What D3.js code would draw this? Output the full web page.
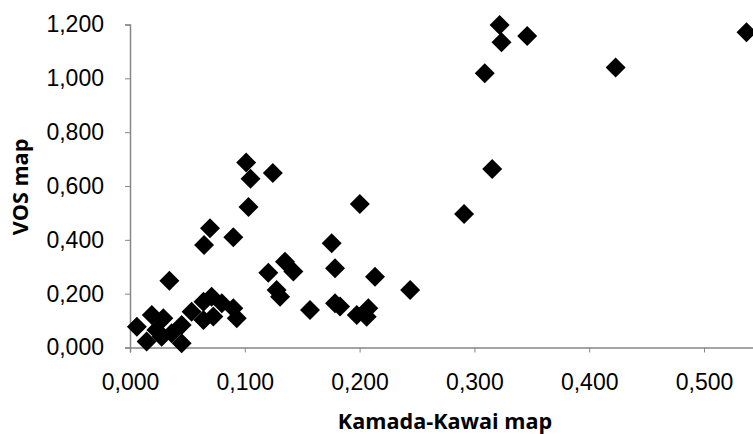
<!DOCTYPE html>
<html>
<head>
<meta charset="utf-8">
<script src="https://cdn.jsdelivr.net/npm/d3@7"></script>
<style>
    body { margin: 0; background: #fff; }
    svg { display: block; font-family: "Open Sans", Lato, sans-serif; }
    .axis path, .axis line { stroke: #868686; }
    .axis text { fill: #000; font-size: 23px; }
    .title { font-size: 21.6px; font-weight: bold; fill: #000; }
</style>
</head>
<body>
<script>
// Kamada-Kawai map vs VOS map
const kkValues = [
    0.006, 0.0145, 0.019, 0.029, 0.023, 0.0276, 0.0363, 0.045, 0.045,
    0.0537, 0.064, 0.064, 0.0711, 0.0726, 0.080, 0.090, 0.093,
    0.0343, 0.0645, 0.0697, 0.090, 0.1012, 0.105, 0.1244, 0.1032,
    0.1205, 0.135, 0.1423, 0.1277, 0.1307, 0.1568,
    0.1757, 0.1786, 0.1786, 0.183, 0.1975, 0.2076, 0.2062, 0.2134, 0.2002, 0.244,
    0.291, 0.3155, 0.309, 0.322, 0.3236, 0.346, 0.423, 0.537
];
const vosValues = [
    0.077, 0.022, 0.121, 0.109, 0.065, 0.040, 0.053, 0.084, 0.016,
    0.133, 0.102, 0.170, 0.189, 0.115, 0.164, 0.146, 0.109,
    0.248, 0.381, 0.443, 0.410, 0.687, 0.627, 0.648, 0.522,
    0.278, 0.319, 0.282, 0.214, 0.189, 0.139,
    0.387, 0.294, 0.164, 0.152, 0.121, 0.146, 0.114, 0.263, 0.533, 0.214,
    0.496, 0.663, 1.019, 1.198, 1.134, 1.157, 1.040, 1.171
];
const xTicks = [0, 0.1, 0.2, 0.3, 0.4, 0.5];
const yTicks = [0, 0.2, 0.4, 0.6, 0.8, 1.0, 1.2];

const width = 753, height = 434;
const margin = { left: 130, top: 24.5, bottom: 347.5 };
const unitX = 1148; // px per 1.0 on the x axis

const svg = d3.select('body').append('svg')
    .attr('width', width)
    .attr('height', height);

const x = d3.scaleLinear().domain([0, 0.6]).range([margin.left, margin.left + 0.6 * unitX]);
const y = d3.scaleLinear().domain([0, 1.2]).range([margin.bottom, margin.top]);

const fmt = v => d3.format('.3f')(v).replace('.', ',');

svg.append('g')
    .attr('class', 'axis')
    .attr('transform', `translate(0,${margin.bottom})`)
    .call(d3.axisBottom(x).tickValues(xTicks).tickFormat(fmt).tickSize(5).tickPadding(21));

svg.append('g')
    .attr('class', 'axis')
    .attr('transform', `translate(${margin.left},0)`)
    .call(d3.axisLeft(y).tickValues(yTicks).tickFormat(fmt).tickSize(5).tickPadding(21));

svg.selectAll('.axis path').attr('stroke-width', 1.5);

// diamond markers
const r = 10;
svg.append('g')
    .selectAll('path')
    .data(kkValues.map((v, i) => [v, vosValues[i]]))
    .enter().append('path')
    .attr('d', `M0,${-r}L${r},0L0,${r}L${-r},0Z`)
    .attr('transform', d => `translate(${x(d[0])},${y(d[1])})`)
    .attr('fill', '#000');

svg.append('text')
    .attr('class', 'title')
    .attr('x', 445)
    .attr('y', 429)
    .attr('text-anchor', 'middle')
    .text('Kamada-Kawai map');

svg.append('text')
    .attr('class', 'title')
    .attr('transform', 'translate(27.5,187) rotate(-90)')
    .attr('text-anchor', 'middle')
    .text('VOS map');
</script>
</body>
</html>
